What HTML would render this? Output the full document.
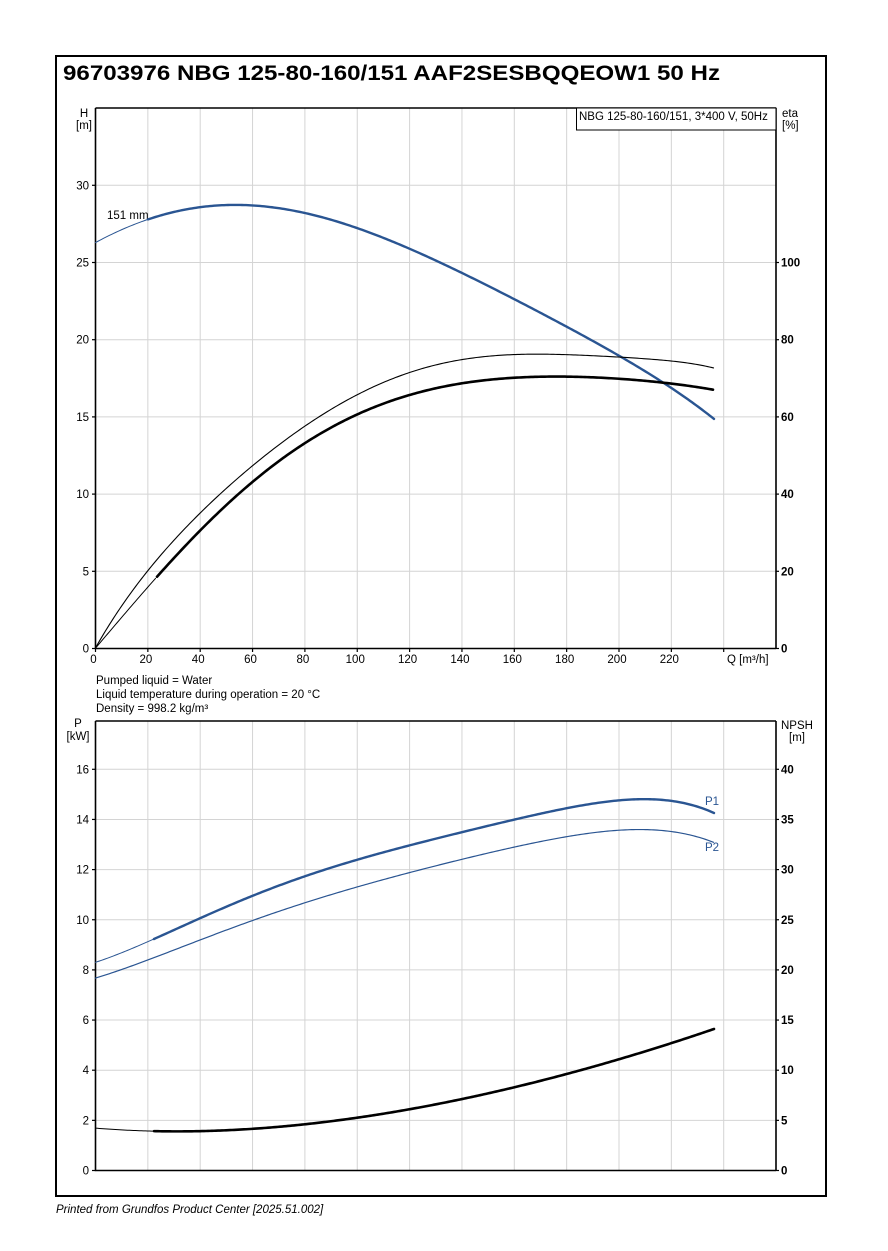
<!DOCTYPE html>
<html><head><meta charset="utf-8"><style>
html,body{margin:0;padding:0;background:#fff;}
svg{display:block;font-family:"Liberation Sans",Arial,sans-serif;}
</style></head><body>
<svg id="s" width="888" height="1251" viewBox="0 0 888 1251" xmlns="http://www.w3.org/2000/svg">
<rect x="0" y="0" width="888" height="1251" fill="#fff"/>
<rect x="56" y="56" width="770" height="1140" fill="none" stroke="#000" stroke-width="2"/>
<text x="63" y="80" font-size="21" font-weight="bold" textLength="657" lengthAdjust="spacingAndGlyphs">96703976 NBG 125-80-160/151 AAF2SESBQQEOW1 50 Hz</text>
<g id="grid" stroke="#d4d4d4" stroke-width="1"></g>
<path d="M95.5 108 V648.5 H776 M776 108 V648.5 M95.5 108 H776" fill="none" stroke="#000" stroke-width="1.6"/>
<path d="M95.5 721 V1170.5 H776 M776 721 V1170.5 M95.5 721 H776" fill="none" stroke="#000" stroke-width="1.6"/>
<g id="ticks" stroke="#000" stroke-width="1.2"></g>
<g id="labels" font-size="11.5" fill="#000"></g>
<rect x="576.5" y="108" width="199.5" height="22" fill="#fff" stroke="#000" stroke-width="1"/>
<text x="579" y="120" font-size="11.5">NBG 125-80-160/151, 3*400 V, 50Hz</text>
<text x="84" y="117" font-size="11.5" text-anchor="middle">H</text>
<text x="84" y="129" font-size="11.5" text-anchor="middle">[m]</text>
<text x="782" y="117" font-size="11.5">eta</text>
<text x="782" y="129" font-size="11.5">[%]</text>
<text x="727" y="663" font-size="11.5">Q [m³/h]</text>
<text x="96" y="684" font-size="11.5">Pumped liquid = Water</text>
<text x="96" y="698" font-size="11.5">Liquid temperature during operation = 20 °C</text>
<text x="96" y="712" font-size="11.5">Density = 998.2 kg/m³</text>
<text x="78" y="727" font-size="11.5" text-anchor="middle">P</text>
<text x="78" y="740" font-size="11.5" text-anchor="middle">[kW]</text>
<text x="781" y="729" font-size="11.5">NPSH</text>
<text x="789" y="741" font-size="11.5">[m]</text>
<text x="107" y="219" font-size="11.5">151 mm</text>
<text x="705" y="805" font-size="11.5" fill="#2a5592">P1</text>
<text x="705" y="851" font-size="11.5" fill="#2a5592">P2</text>
<g id="curves" fill="none" stroke-linecap="round" stroke-linejoin="round"></g>
<text x="56" y="1213" font-size="11.5" font-style="italic">Printed from Grundfos Product Center [2025.51.002]</text>
</svg>
<script>
var NS="http://www.w3.org/2000/svg";
function el(p,t,a,txt){var e=document.createElementNS(NS,t);for(var k in a)e.setAttribute(k,a[k]);if(txt!=null)e.textContent=txt;document.getElementById(p).appendChild(e);}
var x0=95.5,dx=52.35;
for(var i=1;i<13;i++){var x=x0+i*dx;el('grid','line',{x1:x,y1:108,x2:x,y2:648});el('grid','line',{x1:x,y1:721,x2:x,y2:1170});}
for(var j=1;j<=6;j++){var y=648.5-j*77.2;el('grid','line',{x1:95,y1:y,x2:776,y2:y});}
for(var j=1;j<=8;j++){var y=1170.5-j*50.15;el('grid','line',{x1:95,y1:y,x2:776,y2:y});}
for(var i=0;i<=12;i++){var x=x0+i*dx;el('ticks','line',{x1:x,y1:648,x2:x,y2:652});
 if(i<12)el('labels','text',{x:x-2,y:663,'text-anchor':'middle'},String(i*20));}
for(var j=0;j<=6;j++){var y=648.5-j*77.2;el('ticks','line',{x1:92,y1:y,x2:95.5,y2:y});el('labels','text',{x:89,y:y+4,'text-anchor':'end'},String(j*5));
 if(j<=5){el('ticks','line',{x1:776,y1:y,x2:779,y2:y});el('labels','text',{x:781,y:y+4,'font-weight':'bold'},String(j*20));}}
for(var j=0;j<=8;j++){var y=1170.5-j*50.15;el('ticks','line',{x1:92,y1:y,x2:95.5,y2:y});el('labels','text',{x:89,y:y+4,'text-anchor':'end'},String(j*2));
 el('ticks','line',{x1:776,y1:y,x2:779,y2:y});el('labels','text',{x:781,y:y+4,'font-weight':'bold'},String(j*5));}
// least squares polynomial fit
function fit(pts,deg){var n=deg+1,A=[],b=[];for(var i=0;i<n;i++){A.push(new Array(n).fill(0));b.push(0);}
 pts.forEach(function(p){var t=(p[0]-400)/300;for(var i=0;i<n;i++){for(var j=0;j<n;j++)A[i][j]+=Math.pow(t,i+j);b[i]+=p[1]*Math.pow(t,i);}});
 for(var i=0;i<n;i++){var m=i;for(var k=i+1;k<n;k++)if(Math.abs(A[k][i])>Math.abs(A[m][i]))m=k;var tmp=A[i];A[i]=A[m];A[m]=tmp;tmp=b[i];b[i]=b[m];b[m]=tmp;
  for(var k=i+1;k<n;k++){var f=A[k][i]/A[i][i];for(var j=i;j<n;j++)A[k][j]-=f*A[i][j];b[k]-=f*b[i];}}
 var c=new Array(n);for(var i=n-1;i>=0;i--){var s=b[i];for(var j=i+1;j<n;j++)s-=A[i][j]*c[j];c[i]=s/A[i][i];}
 return function(x){var t=(x-400)/300,s=0;for(var i=0;i<n;i++)s+=c[i]*Math.pow(t,i);return s;};}
var B="#2a5592";
function c(pts,deg,xa,xb,col,w){var f=fit(pts,deg),d="";for(var x=xa;x<=xb+0.01;x+=2){var xx=Math.min(x,xb);d+=(d?" L":"M")+xx.toFixed(2)+" "+f(xx).toFixed(2);}
 el('curves','path',{d:d,stroke:col,'stroke-width':w});}
var H=[[95.5,242.7],[148,219],[190,209],[237,205],[290,210],[357,228],[410,249],[461,272],[515,300],[567,327],[618,355],[670,387],[714,419]];
c(H,5,95.5,148,B,1);c(H,5,148,714,B,2.4);
var E1=[[95.5,648],[148,570],[201,513],[253,465],[305,426],[358,394],[410,373],[463,359],[495,356],[545,354],[618,357],[670,361],[714,368]];
c(E1,6,95.5,714,"#000",1.1);
var E2=[[95.5,648],[157,577],[201,530],[253,480],[305,444],[358,415],[410,394],[463,383],[495,379],[545,377],[618,379],[670,383],[714,390]];
c(E2,6,95.5,157,"#000",1);c(E2,6,157,714,"#000",2.6);
var P1=[[95.5,962],[154,940],[230,904],[306,876],[383,853],[460,833],[540,813],[600,802],[645,800.5],[690,804],[714,813]];
c(P1,5,95.5,154,B,1);c(P1,5,154,714,B,2.4);
var P2=[[95.5,978],[154,958],[230,928],[306,903],[383,880],[460,859],[540,842],[600,832],[645,830],[690,834],[714,843]];
c(P2,5,95.5,714,B,1.2);
var N=[[95.5,1128.5],[154,1130.5],[200,1131],[253,1129],[306,1124],[383,1115],[460,1099],[540,1080],[600,1064],[660,1049],[714,1028]];
c(N,4,95.5,154,"#000",1);c(N,4,154,714,"#000",2.6);
</script>
</body></html>
